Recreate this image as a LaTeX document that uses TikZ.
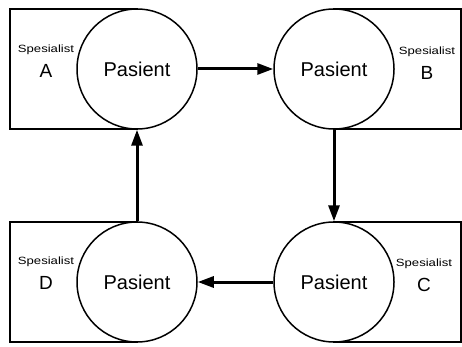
\documentclass[tikz,border=0pt]{standalone}
\usepackage{fontspec}
\setmainfont{Liberation Sans}
\usetikzlibrary{arrows.meta}
\begin{document}
\begin{tikzpicture}[x=1pt,y=-1pt,
  box/.style={draw, line width=1.5pt, minimum width=127pt, minimum height=120pt, inner sep=0pt},
  pas/.style={circle, draw, fill=white, line width=1.5pt, minimum size=120pt, inner sep=0pt, font=\fontsize{20}{22}\selectfont},
  spec/.style={font=\fontsize{10.5}{12}\selectfont, xscale=1.25, inner sep=0pt},
  let/.style={font=\fontsize{19}{21}\selectfont, inner sep=0pt},
  flow/.style={line width=3pt, -{Triangle[length=16pt,width=11pt]}}]
\useasboundingbox (0,0) rectangle (462,347);
% rectangles
\node[box] (ra) at (73.5,69) {};
\node[box] (rb) at (397.5,69) {};
\node[box] (rc) at (397.5,282) {};
\node[box] (rd) at (73.5,282) {};
% circles
\node[pas] (a) at (137,69) {Pasient};
\node[pas] (b) at (334,69) {Pasient};
\node[pas] (c) at (334,282) {Pasient};
\node[pas] (d) at (137,282) {Pasient};
% labels
\node[spec] (sa) at (46,50) {Spesialist};
\node[let] (la) at (46,71) {A};
\node[spec] (sb) at (427,52) {Spesialist};
\node[let] (lb) at (427,73) {B};
\node[spec] (sc) at (424,264) {Spesialist};
\node[let] (lc) at (424,285) {C};
\node[spec] (sd) at (46,262) {Spesialist};
\node[let] (ld) at (46,283) {D};
% arrows
\draw[flow] (a.east) -- (b.west);
\draw[flow] (b.south) -- (c.north);
\draw[flow] (c.west) -- (d.east);
\draw[flow] (d.north) -- (a.south);
\end{tikzpicture}
\end{document}
